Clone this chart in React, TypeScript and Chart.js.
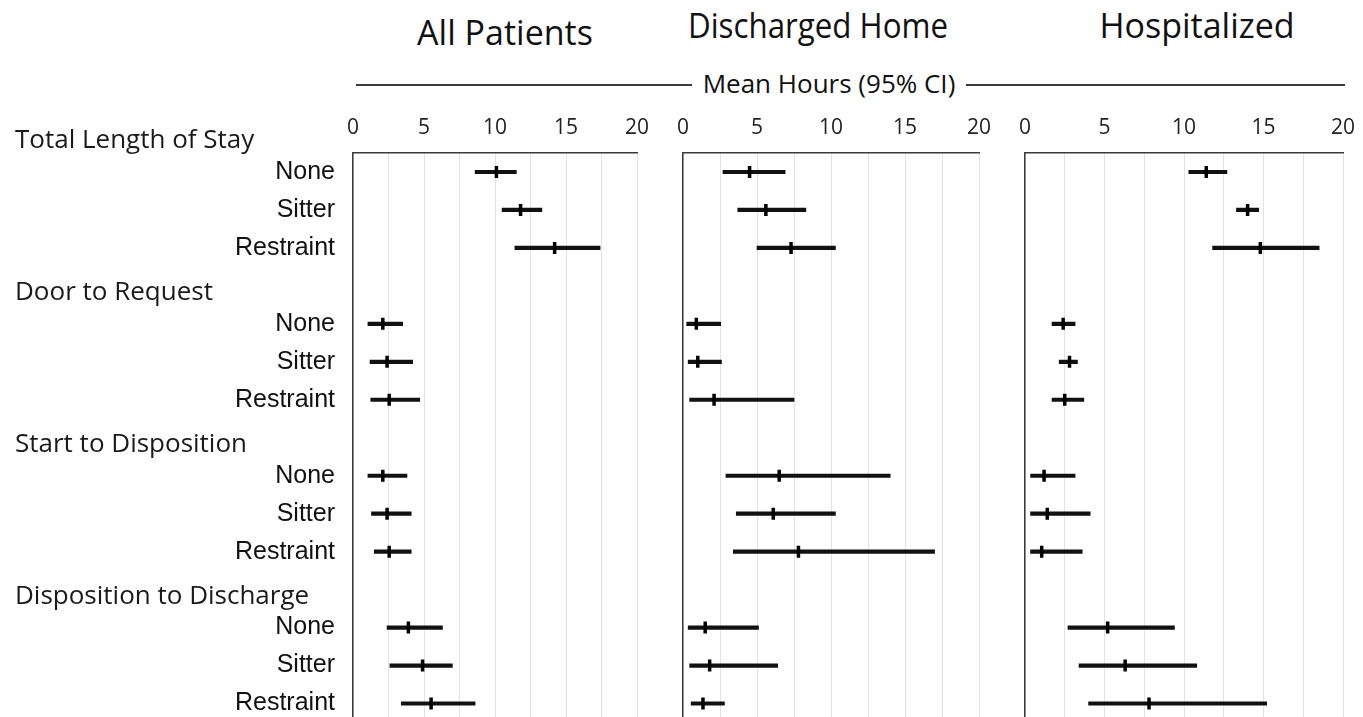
import React, { useEffect, useRef } from "react";
import { Chart, registerables } from "chart.js";

Chart.register(...registerables);

// ---------- data ----------
const groups = ["Total Length of Stay", "Door to Request", "Start to Disposition", "Disposition to Discharge"];
const levels = ["None", "Sitter", "Restraint"];
const panelTitles = ["All Patients", "Discharged Home", "Hospitalized"];
const axisTitle = "Mean Hours (95% CI)";
const xTickLabels = [0, 5, 10, 15, 20];

// rows ordered group by group: None, Sitter, Restraint
const allMean = [10.1, 11.8, 14.2, 2.1, 2.4, 2.55, 2.1, 2.4, 2.55, 3.9, 4.9, 5.5];
const allLow = [8.6, 10.5, 11.4, 1.05, 1.2, 1.25, 1.05, 1.3, 1.5, 2.4, 2.6, 3.4];
const allHigh = [11.5, 13.3, 17.4, 3.5, 4.2, 4.7, 3.8, 4.1, 4.1, 6.3, 7.0, 8.6];

const homeMean = [4.5, 5.6, 7.3, 0.9, 1.0, 2.1, 6.5, 6.1, 7.8, 1.5, 1.8, 1.35];
const homeLow = [2.7, 3.7, 5.0, 0.25, 0.35, 0.45, 2.9, 3.6, 3.4, 0.35, 0.45, 0.55];
const homeHigh = [6.9, 8.3, 10.3, 2.55, 2.6, 7.5, 14.0, 10.3, 17.0, 5.1, 6.4, 2.8];

const hospMean = [11.4, 14.0, 14.8, 2.4, 2.8, 2.5, 1.2, 1.4, 1.05, 5.2, 6.3, 7.8];
const hospLow = [10.3, 13.3, 11.8, 1.7, 2.15, 1.7, 0.35, 0.35, 0.35, 2.7, 3.4, 4.0];
const hospHigh = [12.7, 14.7, 18.5, 3.15, 3.3, 3.7, 3.15, 4.1, 3.6, 9.4, 10.8, 15.2];

// ---------- helpers ----------
type Cat = { label: string; header: boolean };
const categories: Cat[] = [];
groups.forEach((g) => {
  categories.push({ label: g, header: true });
  levels.forEach((l) => categories.push({ label: l, header: false }));
});

function spread<T>(vals: T[]): (T | null)[] {
  const out: (T | null)[] = [];
  let k = 0;
  categories.forEach((c) => {
    if (c.header) out.push(null);
    else out.push(vals[k++]);
  });
  return out;
}

const TEXT_FONT = "'Open Sans', 'Noto Sans', sans-serif";
const LABEL_FONT = "'Liberation Sans', Arial, sans-serif";

const headerPlugin = {
  id: "groupHeaders",
  afterDraw(chart: any, _args: any, opts: any) {
    if (!opts || !opts.show) return;
    const ys = chart.scales.y;
    const ctx = chart.ctx;
    ctx.save();
    ctx.font = `26px ${TEXT_FONT}`;
    ctx.fillStyle = "#1a1a1a";
    ctx.textAlign = "left";
    ctx.textBaseline = "alphabetic";
    categories.forEach((c, i) => {
      if (!c.header) return;
      const y = ys.getPixelForValue(i);
      ctx.fillText(c.label, 15, y + 14);
    });
    ctx.restore();
  },
};

type PanelProps = {
  mean: number[];
  low: number[];
  high: number[];
  showLabels: boolean;
  left: number;
  axisWidth: number;
  plotRight: number;
};

const CANVAS_H = 732;
const RIGHT_PAD = 14;

function Panel({ mean, low, high, showLabels, left, axisWidth, plotRight }: PanelProps) {
  const ref = useRef<HTMLCanvasElement | null>(null);
  const width = plotRight + RIGHT_PAD - left;
  useEffect(() => {
    if (!ref.current) return;
    const ranges = spread(low.map((lo, i) => [lo, high[i]]));
    const chart = new Chart(ref.current, {
      type: "bar",
      data: {
        labels: categories.map((c) => c.label),
        datasets: [
          {
            type: "line",
            indexAxis: "y",
            data: spread(mean) as any,
            showLine: false,
            pointStyle: "line",
            rotation: 90,
            pointRadius: 6,
            pointHoverRadius: 6,
            pointBorderWidth: 3.5,
            pointBorderColor: "#000",
            pointBackgroundColor: "#000",
            borderColor: "#000",
          } as any,
          {
            type: "bar",
            data: ranges as any,
            backgroundColor: "#111",
            borderWidth: 0,
            barThickness: 3.5,
          } as any,
        ],
      },
      options: {
        indexAxis: "y",
        responsive: false,
        animation: false,
        devicePixelRatio: 1,
        layout: { padding: { left: 0, right: RIGHT_PAD, top: 0, bottom: 0 } },
        plugins: {
          legend: { display: false },
          tooltip: { enabled: false },
          title: { display: false },
          groupHeaders: { show: showLabels },
        } as any,
        scales: {
          x: {
            type: "linear",
            position: "top",
            min: 0,
            max: 20,
            afterFit: (s: any) => {
              s.height = 153;
              s.paddingLeft = 0;
              s.paddingRight = 0;
            },
            ticks: {
              stepSize: 2.5,
              autoSkip: false,
              maxRotation: 0,
              padding: 12,
              color: "#222",
              font: { family: TEXT_FONT, size: 21 },
              callback: (v: any) => (xTickLabels.includes(Number(v)) ? String(v) : ""),
            },
            grid: { display: true, color: "#e3e3e3", lineWidth: 1, drawTicks: false },
            border: { display: true, color: "#3a3a3a", width: 1.5 },
          },
          y: {
            type: "category",
            position: "left",
            min: 1,
            afterFit: (s: any) => {
              s.width = axisWidth;
              s.paddingTop = 0;
              s.paddingBottom = 0;
            },
            ticks: {
              display: showLabels,
              autoSkip: false,
              padding: 10,
              color: "#111",
              font: { family: LABEL_FONT, size: 25 },
              callback: (v: any) => (categories[Number(v)].header ? "" : categories[Number(v)].label),
            },
            grid: { display: false },
            border: { display: true, color: "#3a3a3a", width: 1.5 },
          },
        },
      } as any,
      plugins: [headerPlugin],
    });
    return () => chart.destroy();
  }, []);
  return (
    <canvas
      ref={ref}
      width={width}
      height={CANVAS_H}
      style={{ position: "absolute", left, top: 0, width, height: CANVAS_H }}
    />
  );
}

const titleBase: React.CSSProperties = {
  position: "absolute",
  transform: "translateX(-50%)",
  whiteSpace: "nowrap",
  fontFamily: TEXT_FONT,
  fontSize: 34,
  lineHeight: "34px",
  color: "#111",
};

export default function App() {
  return (
    <div
      style={{
        position: "fixed",
        left: 0,
        top: 0,
        width: 1363,
        height: 717,
        overflow: "hidden",
        background: "#fff",
      }}
    >
      <div style={{ ...titleBase, left: 505, top: 15 }}>{panelTitles[0]}</div>
      <div style={{ ...titleBase, left: 818, top: 8, transform: "translateX(-50%) scaleX(0.92)" }}>{panelTitles[1]}</div>
      <div style={{ ...titleBase, left: 1197, top: 8 }}>{panelTitles[2]}</div>

      <div style={{ position: "absolute", left: 356, top: 84, width: 336, height: 2, background: "#3a3a3a" }} />
      <div style={{ position: "absolute", left: 966, top: 84, width: 379, height: 2, background: "#3a3a3a" }} />
      <div
        style={{
          ...titleBase,
          left: 829,
          top: 70,
          fontSize: 26,
          lineHeight: "26px",
        }}
      >
        {axisTitle}
      </div>

      <Panel mean={allMean} low={allLow} high={allHigh} showLabels={true} left={0} axisWidth={353} plotRight={637} />
      <Panel mean={homeMean} low={homeLow} high={homeHigh} showLabels={false} left={663} axisWidth={20} plotRight={979} />
      <Panel mean={hospMean} low={hospLow} high={hospHigh} showLabels={false} left={1005} axisWidth={20} plotRight={1343} />
    </div>
  );
}
